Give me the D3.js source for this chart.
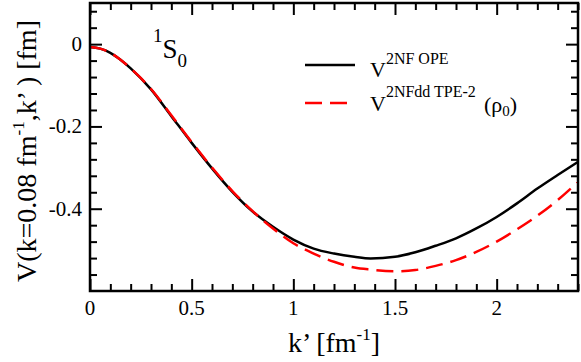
<!DOCTYPE html>
<html>
<head>
<meta charset="utf-8">
<script src="https://cdn.jsdelivr.net/npm/d3@7"></script>
<style>
  body { margin: 0; background: #fff; }
  text { font-family: "Liberation Serif", "Times New Roman", serif; fill: #000; }
</style>
</head>
<body>
<svg id="chart" width="581" height="362"></svg>
<script>
// k' values [fm^-1]
var kvals = [0, 0.05, 0.1, 0.15, 0.2, 0.3, 0.4, 0.5, 0.6, 0.7, 0.8, 0.9, 1.0, 1.1, 1.2, 1.3, 1.38, 1.5, 1.6, 1.7, 1.8, 1.9, 2.0, 2.1, 2.2, 2.3, 2.4];
// V^{2NF OPE}
var opeVals = [-0.007, -0.011, -0.021, -0.038, -0.059, -0.110, -0.175, -0.240, -0.302, -0.359, -0.407, -0.444, -0.475, -0.497, -0.509, -0.517, -0.521, -0.517, -0.506, -0.490, -0.472, -0.448, -0.420, -0.387, -0.351, -0.318, -0.286];
// V^{2NFdd TPE-2}(rho0)
var tpeVals = [-0.007, -0.011, -0.021, -0.038, -0.059, -0.109, -0.173, -0.238, -0.300, -0.357, -0.406, -0.448, -0.484, -0.509, -0.529, -0.543, -0.548, -0.552, -0.549, -0.539, -0.525, -0.505, -0.480, -0.450, -0.417, -0.379, -0.335];

var xMajor = [0, 0.5, 1, 1.5, 2];
var xLabels = ["0", "0.5", "1", "1.5", "2"];
var yMajor = [0, -0.2, -0.4];
var yLabels = ["0", "-0.2", "-0.4"];

var svg = d3.select("#chart");
var pLeft = 90, pRight = 578, pTop = 3, pBottom = 291;

var x = d3.scaleLinear().domain([0, 2.4]).range([pLeft, pRight]);
var y = d3.scaleLinear().domain([-0.6, 0.1]).range([pBottom, pTop]);

var xMinor = d3.range(0, 2.41, 0.1).filter(function(v){ return Math.abs(v*2 - Math.round(v*2)) > 1e-6; });
var yMinor = d3.range(-0.56, 0.09, 0.04).filter(function(v){ return Math.abs(v*5 - Math.round(v*5)) > 1e-6; });

function ticks(axisFn, scale, vals, size, pos) {
  var g = svg.append("g").attr("transform", pos)
    .call(axisFn(scale).tickValues(vals).tickSize(size).tickFormat(""));
  g.select(".domain").remove();
  g.selectAll(".tick line").attr("stroke", "#000").attr("stroke-width", 2);
  return g;
}

// inward ticks on all four sides
ticks(d3.axisBottom, x, xMajor, -12, "translate(0," + pBottom + ")");
ticks(d3.axisBottom, x, xMinor, -7, "translate(0," + pBottom + ")");
ticks(d3.axisTop, x, xMajor, -12, "translate(0," + pTop + ")");
ticks(d3.axisTop, x, xMinor, -7, "translate(0," + pTop + ")");
ticks(d3.axisLeft, y, yMajor, -12, "translate(" + pLeft + ",0)");
ticks(d3.axisLeft, y, yMinor, -7, "translate(" + pLeft + ",0)");
ticks(d3.axisRight, y, yMajor, -12, "translate(" + pRight + ",0)");
ticks(d3.axisRight, y, yMinor, -7, "translate(" + pRight + ",0)");

// tick labels
svg.append("g").selectAll("text").data(xMajor).enter().append("text")
  .attr("x", function(d){ return x(d); })
  .attr("y", 315)
  .attr("text-anchor", "middle")
  .style("font-size", "21px")
  .text(function(d, i){ return xLabels[i]; });

svg.append("g").selectAll("text").data(yMajor).enter().append("text")
  .attr("x", 82)
  .attr("y", function(d){ return y(d) + 7; })
  .attr("text-anchor", "end")
  .style("font-size", "21px")
  .text(function(d, i){ return yLabels[i]; });

// curves
var line = d3.line()
  .curve(d3.curveMonotoneX)
  .x(function(d){ return x(d[0]); })
  .y(function(d){ return y(d[1]); });

svg.append("path")
  .datum(kvals.map(function(k, i){ return [k, opeVals[i]]; }))
  .attr("d", line)
  .attr("fill", "none")
  .attr("stroke", "#000")
  .attr("stroke-width", 2.5);

svg.append("path")
  .datum(kvals.map(function(k, i){ return [k, tpeVals[i]]; }))
  .attr("d", line)
  .attr("fill", "none")
  .attr("stroke", "#ff0000")
  .attr("stroke-width", 2.5)
  .attr("stroke-dasharray", "17,8");

// frame
svg.append("rect")
  .attr("x", pLeft).attr("y", pTop)
  .attr("width", pRight - pLeft).attr("height", pBottom - pTop)
  .attr("fill", "none")
  .attr("stroke", "#000")
  .attr("stroke-width", 2.5);

// 1S0 label
var lab = svg.append("text").attr("x", 153).attr("y", 42);
lab.append("tspan").style("font-size", "19px").text("1");
lab.append("tspan").attr("dy", 16).style("font-size", "27px").text("S");
lab.append("tspan").attr("dy", 9).style("font-size", "19px").text("0");

// legend
svg.append("line")
  .attr("x1", 305).attr("x2", 355).attr("y1", 65).attr("y2", 65)
  .attr("stroke", "#000").attr("stroke-width", 2.5);
svg.append("line")
  .attr("x1", 305).attr("x2", 355).attr("y1", 103).attr("y2", 103)
  .attr("stroke", "#ff0000").attr("stroke-width", 2.5)
  .attr("stroke-dasharray", "17,8");

var l1 = svg.append("text").attr("x", 370).attr("y", 77);
l1.append("tspan").style("font-size", "22px").text("V");
l1.append("tspan").attr("dy", -13).style("font-size", "16px").text("2NF OPE");

var l2 = svg.append("text").attr("x", 370).attr("y", 111);
l2.append("tspan").style("font-size", "22px").text("V");
l2.append("tspan").attr("dy", -14).style("font-size", "16px").text("2NFdd TPE-2");
var l3 = svg.append("text").attr("x", 484).attr("y", 112);
l3.append("tspan").style("font-size", "22px").text("(\u03c1");
l3.append("tspan").attr("dy", 4).style("font-size", "15px").text("0");
l3.append("tspan").attr("dy", -4).style("font-size", "22px").text(")");

// axis titles
var xt = svg.append("text").attr("x", 334).attr("y", 352).attr("text-anchor", "middle").style("font-size", "28px");
xt.append("tspan").text("k\u2019 [fm");
xt.append("tspan").attr("dy", -12).style("font-size", "17px").text("-1");
xt.append("tspan").attr("dy", 12).text("]");

var yt = svg.append("text").attr("transform", "translate(36,151) rotate(-90)").attr("text-anchor", "middle").style("font-size", "28px");
yt.append("tspan").text("V(k=0.08 fm");
yt.append("tspan").attr("dy", -12).style("font-size", "17px").text("-1");
yt.append("tspan").attr("dy", 12).text(",k\u2019 ) [fm]");
</script>
</body>
</html>
